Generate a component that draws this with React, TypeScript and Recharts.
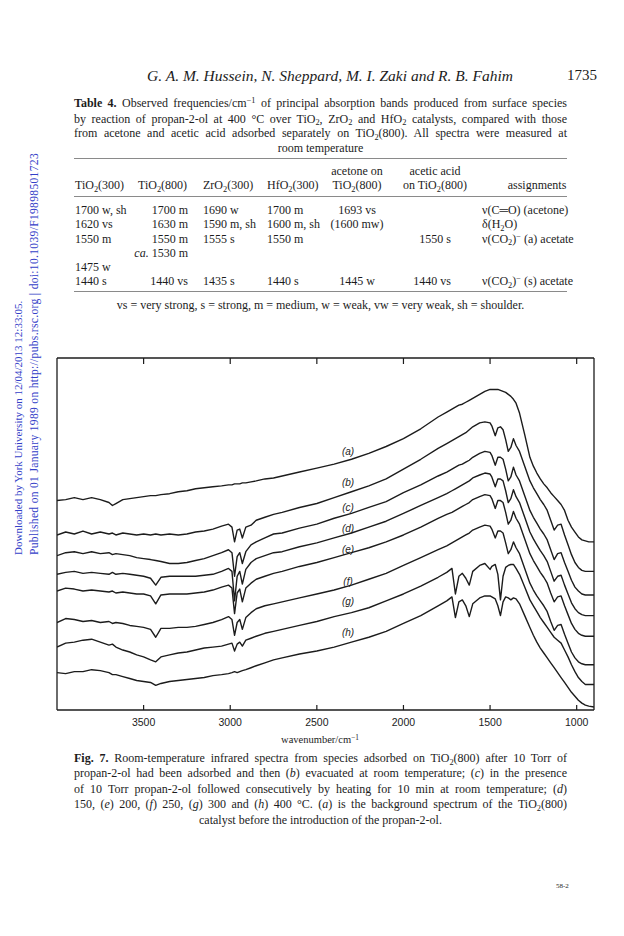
import React from 'react';
import { LineChart, Line, XAxis, YAxis, ReferenceDot } from 'recharts';

// wavenumber grid (cm-1), denser where the bands are
const WAVENUMBERS = [
  4000, 3950, 3900, 3850, 3800, 3750, 3700, 3680, 3660, 3620,
  3580, 3540, 3500, 3460, 3430, 3400, 3350, 3300, 3250, 3200,
  3150, 3100, 3050, 3010, 2990, 2975, 2960, 2945, 2930, 2910,
  2880, 2850, 2800, 2750, 2700, 2600, 2500, 2400, 2300, 2200,
  2100, 2000, 1900, 1800, 1750, 1720, 1700, 1680, 1660, 1640,
  1620, 1600, 1560, 1530, 1500, 1490, 1470, 1455, 1440, 1425,
  1410, 1395, 1380, 1365, 1350, 1330, 1300, 1270, 1250, 1230,
  1210, 1190, 1170, 1150, 1130, 1110, 1090, 1070, 1050, 1030,
  1010, 990, 970, 950, 930, 900,
];

// trace heights (arbitrary offset units, larger = lower on the page)
const TRACE_A = [
  503, 502, 500, 502, 500, 502, 505, 508, 506, 502,
  501, 500, 499, 498, 498, 497, 496, 494, 493, 491,
  490, 489, 488, 487, 487, 486, 486, 486, 485, 485,
  484, 483, 481, 480, 478, 474, 470, 466, 461, 455,
  448, 440, 430, 418, 413, 410, 408, 406, 405, 403,
  401, 399, 395, 392, 390, 390, 390, 390, 391, 392,
  393, 395, 397, 400, 404, 414, 436, 459, 468, 475,
  481, 486, 490, 495, 499, 503, 507, 513, 523, 530,
  535, 540, 543, 544, 545, 545,
];
const TRACE_B = [
  538, 535, 537, 534, 537, 535, 537, 536, 538, 536,
  537, 538, 537, 538, 537, 538, 537, 538, 537, 535,
  534, 532, 529, 527, 530, 545, 533, 532, 541, 530,
  528, 523, 520, 517, 515, 510, 506, 500, 494, 488,
  481, 471, 461, 450, 445, 442, 440, 438, 436, 434,
  431, 428, 424, 423, 424, 427, 437, 429, 428, 431,
  441, 453, 449, 440, 447, 453, 468, 483, 490, 496,
  502, 507, 513, 523, 533, 528, 527, 538, 548, 558,
  566, 571, 574, 575, 575, 575,
];
const TRACE_C = [
  559, 556, 555, 557, 555, 557, 556, 558, 557, 558,
  559, 561, 562, 563, 564, 565, 567, 567, 566, 564,
  562, 559, 556, 553, 556, 580, 560, 556, 567, 555,
  548, 545, 541, 537, 536, 531, 527, 521, 516, 510,
  504, 495, 487, 478, 474, 471, 469, 467, 466, 464,
  462, 459, 455, 453, 454, 457, 467, 459, 459, 461,
  471, 483, 479, 469, 477, 483, 498, 513, 520, 526,
  532, 537, 543, 553, 563, 557, 556, 566, 575, 584,
  591, 595, 598, 599, 599, 599,
];
const TRACE_D = [
  578, 576, 575, 577, 576, 577, 578, 576, 578, 577,
  578, 579, 580, 582, 589, 581, 580, 580, 580, 580,
  579, 578, 575, 572, 575, 605, 580, 575, 588, 573,
  566, 562, 559, 556, 555, 550, 546, 541, 536, 530,
  524, 516, 508, 500, 496, 493, 491, 489, 487, 485,
  483, 480, 477, 475, 476, 479, 489, 481, 481, 483,
  493, 505, 501, 492, 499, 505, 520, 535, 542, 548,
  554, 559, 565, 575, 585, 580, 579, 589, 598, 607,
  613, 617, 619, 620, 620, 620,
];
const TRACE_E = [
  595, 592, 593, 595, 594, 595, 596, 595, 597, 596,
  597, 598, 598, 600, 608, 599, 598, 598, 598, 597,
  596, 594, 591, 589, 592, 618, 597, 593, 606, 592,
  587, 583, 580, 577, 575, 570, 566, 561, 556, 551,
  545, 538, 530, 521, 517, 515, 513, 511, 509, 507,
  505, 502, 499, 497, 498, 501, 511, 503, 503, 505,
  515, 527, 523, 514, 521, 527, 542, 557, 564, 570,
  576, 581, 587, 597, 606, 601, 600, 610, 619, 628,
  634, 638, 640, 641, 641, 641,
];
const TRACE_F = [
  627, 623, 624, 626, 625, 627, 626, 628, 627, 628,
  630, 631, 632, 634, 642, 633, 633, 632, 632, 631,
  629, 627, 624, 621, 624, 640, 627, 624, 634, 622,
  617, 613, 610, 608, 606, 602, 598, 594, 589, 583,
  577, 569, 561, 553, 549, 546, 544, 542, 540, 538,
  536, 533, 530, 528, 529, 532, 541, 534, 534, 536,
  546, 557, 553, 545, 551, 557, 572, 587, 594, 600,
  605, 610, 616, 626, 635, 630, 629, 639, 648, 657,
  663, 667, 669, 670, 670, 670,
];
const TRACE_G = [
  652, 648, 647, 645, 644, 647, 650, 649, 652, 655,
  657, 660, 662, 665, 667, 662, 660, 658, 657, 655,
  653, 652, 651, 649, 648, 656, 649, 647, 651, 645,
  643, 641, 638, 636, 634, 630, 626, 621, 617, 612,
  605, 598, 590, 581, 576, 572, 598, 580, 577, 582,
  589, 575, 569, 567, 573, 570, 568, 578, 604, 580,
  571, 569, 568, 568, 572, 578, 591, 604, 610, 616,
  622, 627, 632, 637, 642, 645, 648, 655, 662, 670,
  677, 683, 687, 690, 690, 690,
];
const TRACE_H = [
  678, 679, 677, 677, 675, 676, 678, 680, 680, 682,
  684, 686, 687, 688, 691, 689, 687, 686, 685, 684,
  683, 681, 680, 679, 678, 677, 678, 677, 676, 675,
  673, 671, 668, 665, 663, 659, 656, 652, 647, 642,
  636, 628, 620, 610, 605, 601, 622, 606, 604, 610,
  621, 608, 602, 600, 600, 601, 603, 610, 620, 606,
  601, 602, 604, 602, 603, 608, 620, 632, 640, 647,
  653, 658, 663, 668, 673, 678, 683, 688, 693, 698,
  702, 706, 709, 711, 712, 713,
];

const TRACE_KEYS = ['a', 'b', 'c', 'd', 'e', 'f', 'g', 'h'];
const TRACES = [TRACE_A, TRACE_B, TRACE_C, TRACE_D, TRACE_E, TRACE_F, TRACE_G, TRACE_H];
const TRACE_LABEL_WN = 2320;
const TRACE_LABEL_Y = [453, 485, 510, 531, 553, 585, 606, 637];
const X_TICKS = [3500, 3000, 2500, 2000, 1500, 1000];

// table 4
const COL_TIO2_300 = ['1700 w, sh', '1620 vs', '1550 m', '', '1475 w', '1440 s'];
const COL_TIO2_800 = ['1700 m', '1630 m', '1550 m', 'ca. 1530 m', '', '1440 vs'];
const COL_ZRO2_300 = ['1690 w', '1590 m, sh', '1555 s', '', '', '1435 s'];
const COL_HFO2_300 = ['1700 m', '1600 m, sh', '1550 m', '', '', '1440 s'];
const COL_ACETONE = ['1693 vs', '(1600 mw)', '', '', '', '1445 w'];
const COL_ACETIC = ['', '', '1550 s', '', '', '1440 vs'];

const SERIF = '"Liberation Serif", "DejaVu Serif", serif';
const SANS = '"Liberation Sans", "DejaVu Sans", sans-serif';
const INK = '#1c1c1c';

const data = WAVENUMBERS.map((wn, i) => {
  const row: Record<string, number> = { wn };
  TRACE_KEYS.forEach((k, j) => { row[k] = TRACES[j][i]; });
  return row;
});

const Sub = ({ children }: any) => (
  <span style={{ fontSize: '0.7em', position: 'relative', top: '0.3em' }}>{children}</span>
);
const Sup = ({ children }: any) => (
  <span style={{ fontSize: '0.7em', position: 'relative', top: '-0.45em' }}>{children}</span>
);

const TiO2 = () => <>TiO<Sub>2</Sub></>;

// one justified line of running text, y is the line centre
const TextLine = ({ y, children, center }: any) => (
  <div style={{
    position: 'absolute', left: 74, top: y - 8, width: 493, height: 16, lineHeight: '16px',
    fontSize: 12, fontFamily: SERIF, color: INK,
    textAlign: center ? 'center' : 'justify', textAlignLast: center ? 'center' : 'justify',
  }}>{children}</div>
);

const Cell = ({ x, y, align, children }: any) => {
  const style: React.CSSProperties = {
    position: 'absolute', top: y - 7, lineHeight: '14px', fontSize: 12, fontFamily: SERIF,
    color: INK, whiteSpace: 'nowrap',
  };
  if (align === 'right') { style.right = 624 - x; }
  else if (align === 'center') { style.left = x; style.transform = 'translateX(-50%)'; }
  else { style.left = x; }
  return <div style={style}>{children}</div>;
};

const Rule = ({ y }: any) => (
  <div style={{ position: 'absolute', left: 74, top: y, width: 493, height: 0, borderTop: '1px solid #8a8a8a' }} />
);

const BottomTick = (props: any) => {
  const { x, y, payload } = props;
  return (
    <g>
      <line x1={x} y1={y} x2={x} y2={y - 5} stroke={INK} strokeWidth={1.2} />
      <text x={x} y={y + 16} textAnchor="middle" fontFamily={SANS} fontSize={10.5} fill={INK}>{payload.value}</text>
    </g>
  );
};

const TopTick = (props: any) => {
  const { x, y } = props;
  return <line x1={x} y1={y} x2={x} y2={y + 6} stroke={INK} strokeWidth={1.2} />;
};

const cellText = (v: string) => {
  if (v.startsWith('ca. ')) return <><i>ca.</i>{v.slice(3)}</>;
  return v;
};

const ROW_Y = [210, 224, 238.5, 252.5, 267, 281];

const ASSIGNMENTS = [
  <>ν(C═O) (acetone)</>,
  <>δ(H<Sub>2</Sub>O)</>,
  <>ν(CO<Sub>2</Sub>)<Sup>−</Sup> (a) acetate</>,
  null,
  null,
  <>ν(CO<Sub>2</Sub>)<Sup>−</Sup> (s) acetate</>,
];

const watermark: React.CSSProperties = {
  position: 'absolute', top: 555, height: 12, lineHeight: '12px', transform: 'rotate(-90deg)',
  transformOrigin: '0 0', whiteSpace: 'nowrap', fontFamily: SERIF, color: '#3340c8',
};

export default function App() {
  return (
    <div style={{ position: 'absolute', left: 0, top: 0, width: 624, height: 936, background: '#fff', overflow: 'hidden' }}>
      {/* running head */}
      <div style={{ position: 'absolute', left: 0, width: 660, top: 67, textAlign: 'center', fontFamily: SERIF, fontSize: 15.5, fontStyle: 'italic', color: INK }}>
        G. A. M. Hussein, N. Sheppard, M. I. Zaki and R. B. Fahim
      </div>
      <div style={{ position: 'absolute', right: 27, top: 67, fontFamily: SERIF, fontSize: 15, color: INK }}>1735</div>

      {/* side watermark */}
      <div style={{ ...watermark, left: 12, fontSize: 11 }}>Downloaded by York University on 12/04/2013 12:33:05.</div>
      <div style={{ ...watermark, left: 29, fontSize: 11.6, letterSpacing: 0.3 }}>Published on 01 January 1989 on http://pubs.rsc.org | doi:10.1039/F19898501723</div>

      {/* table caption */}
      <TextLine y={103}><b>Table 4.</b> Observed frequencies/cm<Sup>−1</Sup> of principal absorption bands produced from surface species</TextLine>
      <TextLine y={118.5}>by reaction of propan-2-ol at 400 °C over TiO<Sub>2</Sub>, ZrO<Sub>2</Sub> and HfO<Sub>2</Sub> catalysts, compared with those</TextLine>
      <TextLine y={133}>from acetone and acetic acid adsorbed separately on <TiO2 />(800). All spectra were measured at</TextLine>
      <TextLine y={147.5} center>room temperature</TextLine>

      <Rule y={158} />
      <Cell x={357} y={171} align="center">acetone on</Cell>
      <Cell x={435} y={171} align="center">acetic acid</Cell>
      <Cell x={75} y={185}><TiO2 />(300)</Cell>
      <Cell x={138} y={185}><TiO2 />(800)</Cell>
      <Cell x={203} y={185}>ZrO<Sub>2</Sub>(300)</Cell>
      <Cell x={267} y={185}>HfO<Sub>2</Sub>(300)</Cell>
      <Cell x={357} y={185} align="center"><TiO2 />(800)</Cell>
      <Cell x={435} y={185} align="center">on <TiO2 />(800)</Cell>
      <Cell x={537} y={185} align="center">assignments</Cell>
      <Rule y={196} />
      {ROW_Y.map((y, i) => (
        <React.Fragment key={i}>
          {COL_TIO2_300[i] && <Cell x={75} y={y}>{COL_TIO2_300[i]}</Cell>}
          {COL_TIO2_800[i] && <Cell x={188} y={y} align="right">{cellText(COL_TIO2_800[i])}</Cell>}
          {COL_ZRO2_300[i] && <Cell x={203} y={y}>{COL_ZRO2_300[i]}</Cell>}
          {COL_HFO2_300[i] && <Cell x={267} y={y}>{COL_HFO2_300[i]}</Cell>}
          {COL_ACETONE[i] && <Cell x={357} y={y} align="center">{COL_ACETONE[i]}</Cell>}
          {COL_ACETIC[i] && <Cell x={451} y={y} align="right">{COL_ACETIC[i]}</Cell>}
          {ASSIGNMENTS[i] && <Cell x={482} y={y}>{ASSIGNMENTS[i]}</Cell>}
        </React.Fragment>
      ))}
      <Rule y={291} />
      <Cell x={320.5} y={305} align="center">vs = very strong, s = strong, m = medium, w = weak, vw = very weak, sh = shoulder.</Cell>

      {/* figure 7 */}
      <div style={{ position: 'absolute', left: 56, top: 357 }}>
        <LineChart width={539} height={393} data={data} margin={{ top: 0, right: 0, bottom: 0, left: 0 }}>
          <XAxis xAxisId="x" dataKey="wn" type="number" domain={[900, 4000]} reversed allowDataOverflow
            ticks={X_TICKS} tickSize={0} tickMargin={0} tick={<BottomTick />} height={40}
            axisLine={{ stroke: INK, strokeWidth: 1.3 }} tickLine={false} />
          <XAxis xAxisId="top" orientation="top" dataKey="wn" type="number" domain={[900, 4000]} reversed allowDataOverflow
            ticks={X_TICKS} tickSize={0} tickMargin={0} tick={<TopTick />} height={1}
            axisLine={{ stroke: INK, strokeWidth: 1.3 }} tickLine={false} />
          <YAxis yAxisId="y" domain={[358, 716]} reversed allowDataOverflow width={1} tick={false} tickLine={false}
            axisLine={{ stroke: INK, strokeWidth: 1.3 }} />
          <YAxis yAxisId="yr" orientation="right" domain={[358, 716]} reversed allowDataOverflow width={1} tick={false} tickLine={false}
            axisLine={{ stroke: INK, strokeWidth: 1.3 }} />
          {TRACE_KEYS.map((k) => (
            <Line key={k} xAxisId="x" yAxisId="y" dataKey={k} type="linear" dot={false} stroke={INK}
              strokeWidth={1.4} strokeLinejoin="round" isAnimationActive={false} />
          ))}
          {TRACE_KEYS.map((k, i) => (
            <ReferenceDot key={'l' + k} xAxisId="x" yAxisId="y" x={TRACE_LABEL_WN} y={TRACE_LABEL_Y[i]} r={0}
              shape={(p: any) => (
                <text x={p.cx} y={p.cy + 3.5} textAnchor="middle" fontFamily={SANS} fontStyle="italic" fontSize={10} fill={INK}>
                  ({k})
                </text>
              )} />
          ))}
        </LineChart>
      </div>
      <div style={{ position: 'absolute', left: 220, width: 200, top: 734, textAlign: 'center', fontFamily: SERIF, fontSize: 10.5, color: INK }}>
        wavenumber/cm<Sup>−1</Sup>
      </div>

      {/* figure caption */}
      <TextLine y={758}><b>Fig. 7.</b> Room-temperature infrared spectra from species adsorbed on <TiO2 />(800) after 10 Torr of</TextLine>
      <TextLine y={773}>propan-2-ol had been adsorbed and then (<i>b</i>) evacuated at room temperature; (<i>c</i>) in the presence</TextLine>
      <TextLine y={788.5}>of 10 Torr propan-2-ol followed consecutively by heating for 10 min at room temperature; (<i>d</i>)</TextLine>
      <TextLine y={804}>150, (<i>e</i>) 200, (<i>f</i>) 250, (<i>g</i>) 300 and (<i>h</i>) 400 °C. (<i>a</i>) is the background spectrum of the <TiO2 />(800)</TextLine>
      <TextLine y={819.5} center>catalyst before the introduction of the propan-2-ol.</TextLine>

      <div style={{ position: 'absolute', left: 556, top: 882, fontFamily: SERIF, fontSize: 7, color: INK }}>58-2</div>
    </div>
  );
}
